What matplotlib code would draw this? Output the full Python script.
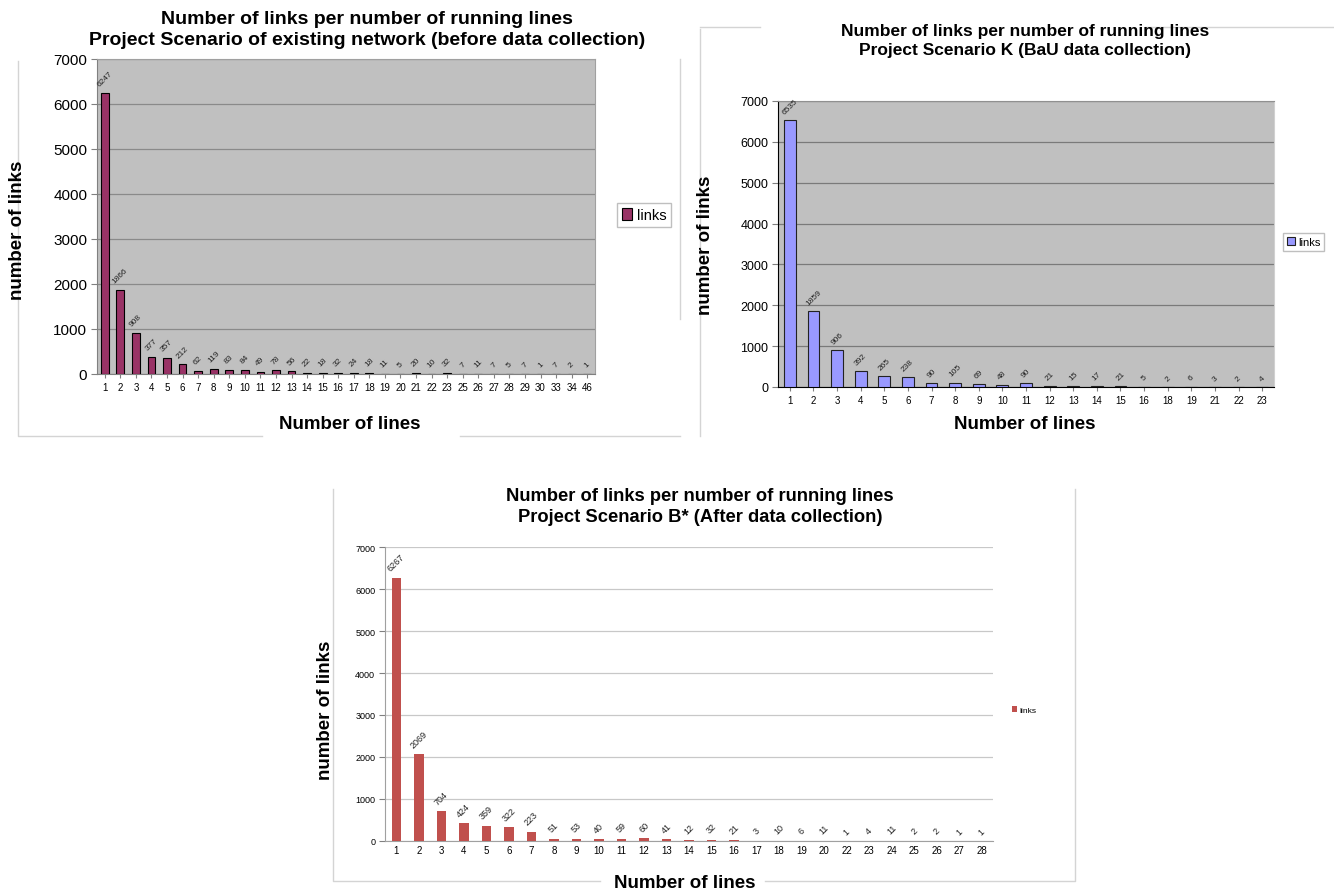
import matplotlib
matplotlib.use("Agg")
import matplotlib.pyplot as plt
from matplotlib.lines import Line2D

plt.rcParams['font.family'] = ['Liberation Sans Narrow', 'Liberation Sans', 'DejaVu Sans']

W, H = 1334, 895

title_top = "Number of links per number of running lines"

# existing network (before data collection)
lines_a = [1, 2, 3, 4, 5, 6, 7, 8, 9, 10, 11, 12, 13, 14, 15, 16, 17, 18, 19, 20,
           21, 22, 23, 25, 26, 27, 28, 29, 30, 33, 34, 46]
links_a = [6247, 1866, 908, 377, 357, 212, 62, 119, 83, 84, 49, 78, 56, 22, 18, 32,
           24, 18, 11, 5, 20, 10, 32, 7, 11, 7, 5, 7, 1, 7, 2, 1]

# scenario K (BaU data collection)
lines_k = [1, 2, 3, 4, 5, 6, 7, 8, 9, 10, 11, 12, 13, 14, 15, 16, 18, 19, 21, 22, 23]
links_k = [6535, 1859, 906, 392, 265, 238, 90, 105, 69, 48, 90, 21, 15, 17, 21, 5,
           2, 6, 3, 2, 4]

# scenario B* (after data collection)
lines_b = [1, 2, 3, 4, 5, 6, 7, 8, 9, 10, 11, 12, 13, 14, 15, 16, 17, 18, 19, 20,
           22, 23, 24, 25, 26, 27, 28]
links_b = [6267, 2069, 704, 424, 359, 322, 223, 51, 53, 40, 59, 60, 41, 12, 32, 21,
           3, 10, 6, 11, 1, 4, 11, 2, 2, 1, 1]

yticks = [0, 1000, 2000, 3000, 4000, 5000, 6000, 7000]

LABEL_FS = 13.5


def rect(x0, y0, x1, y1):
    return [x0 / W, 1 - y1 / H, (x1 - x0) / W, (y1 - y0) / H]


def px(x, y):
    return x / W, 1 - y / H


def border(fig, pts, color='#d4d4d4'):
    xs = [p[0] / W for p in pts]
    ys = [1 - p[1] / H for p in pts]
    fig.add_artist(Line2D(xs, ys, color=color, lw=1.0))


def bar_chart(fig, box, cats, vals, color, edge, bg, grid, tick_fs, lab_fs, yt_fs,
              width=0.5):
    ax = fig.add_axes(rect(*box))
    pos = list(range(len(cats)))
    ax.bar(pos, vals, width=width, color=color,
           edgecolor=edge if edge else color, linewidth=0.8 if edge else 0, zorder=3)
    ax.set_xlim(-0.5, len(cats) - 0.5)
    ax.set_ylim(0, 7000)
    ax.set_yticks(yticks)
    ax.set_xticks(pos)
    ax.set_xticklabels([str(c) for c in cats], fontsize=tick_fs,
                       family=['Liberation Sans', 'DejaVu Sans'])
    ax.set_yticklabels([str(t) for t in yticks], fontsize=yt_fs)
    ax.set_facecolor(bg)
    ax.grid(axis='y', color=grid, lw=0.9, zorder=0)
    ax.tick_params(axis='x', length=3, color='#808080', pad=3)
    ax.tick_params(axis='y', length=4, color='#808080', pad=3)
    for v, p in zip(vals, pos):
        ax.text(p, v + 120, str(v), rotation=45, ha='center', va='bottom',
                fontsize=lab_fs, color='#222222', family=['Liberation Sans', 'DejaVu Sans'],
                zorder=4)
    return ax


fig = plt.figure(figsize=(W / 100, H / 100), dpi=100)

# --- top left ---
ax1 = bar_chart(fig, (97, 60, 595, 375), lines_a, links_a, '#993366', 'black',
                '#c0c0c0', '#8a8a8a', 7, 6, 11)
for s in ['top', 'right']:
    ax1.spines[s].set_color('#a0a0a0')
ax1.spines['left'].set_color('#808080')
ax1.spines['bottom'].set_color('#808080')
fig.text(*px(367, 30), title_top + "\nProject Scenario of existing network (before data collection)",
         ha='center', va='center', fontsize=14, fontweight='bold', linespacing=1.3)
fig.text(*px(18, 230), "number of links", rotation=90, ha='center', va='center',
         fontsize=LABEL_FS, fontweight='bold')
fig.text(*px(350, 425), "Number of lines", ha='center', va='center',
         fontsize=LABEL_FS, fontweight='bold')
ax1.legend(['links'], loc='center left', bbox_to_anchor=(px(617, 216)),
           bbox_transform=fig.transFigure, fontsize=10.5, frameon=True,
           fancybox=False, edgecolor='#b0b0b0', handlelength=0.7, handleheight=0.9,
           handletextpad=0.3, borderpad=0.35, borderaxespad=0)
border(fig, [(18, 62), (18, 437), (262, 437)])
border(fig, [(460, 437), (680, 437)])
border(fig, [(680, 60), (680, 320)])

# --- top right ---
ax2 = bar_chart(fig, (778, 102, 1274, 388), lines_k, links_k, '#9999ff', '#222222',
                '#c0c0c0', '#7a7a7a', 7, 6, 9)
ax2.spines['top'].set_color('#909090')
ax2.spines['right'].set_color('#d0d0d0')
fig.text(*px(1025, 41), title_top + "\nProject Scenario K (BaU data collection)",
         ha='center', va='center', fontsize=12.5, fontweight='bold', linespacing=1.3)
fig.text(*px(706, 245), "number of links", rotation=90, ha='center', va='center',
         fontsize=LABEL_FS, fontweight='bold')
fig.text(*px(1025, 425), "Number of lines", ha='center', va='center',
         fontsize=LABEL_FS, fontweight='bold')
ax2.legend(['links'], loc='center left', bbox_to_anchor=(px(1283, 243)),
           bbox_transform=fig.transFigure, fontsize=8, frameon=True,
           fancybox=False, edgecolor='#b0b0b0', handlelength=0.7, handleheight=0.8,
           handletextpad=0.3, borderpad=0.35, borderaxespad=0)
border(fig, [(700, 30), (700, 437)])
border(fig, [(700, 28), (760, 28)])
border(fig, [(1145, 28), (1334, 28)])

# --- bottom ---
ax3 = bar_chart(fig, (385, 548, 993, 842), lines_b, links_b, '#c0504d', None,
                'white', '#c8c8c8', 7, 6.5, 6.5, width=0.42)
for s in ['top', 'right']:
    ax3.spines[s].set_visible(False)
ax3.spines['left'].set_color('#a0a0a0')
ax3.spines['bottom'].set_color('#a0a0a0')
ax3.tick_params(axis='x', length=0)
fig.text(*px(700, 507), title_top + "\nProject Scenario B* (After data collection)",
         ha='center', va='center', fontsize=13.2, fontweight='bold', linespacing=1.3)
fig.text(*px(325, 710), "number of links", rotation=90, ha='center', va='center',
         fontsize=LABEL_FS, fontweight='bold')
fig.text(*px(685, 884), "Number of lines", ha='center', va='center',
         fontsize=LABEL_FS, fontweight='bold')
ax3.legend(['links'], loc='center left', bbox_to_anchor=(px(1004, 711)),
           bbox_transform=fig.transFigure, fontsize=6, frameon=False,
           handlelength=0.6, handleheight=0.7, handletextpad=0.3)
border(fig, [(333, 490), (333, 882), (600, 882)])
border(fig, [(765, 882), (1075, 882), (1075, 490)])

fig.savefig("out.png", dpi=100)
